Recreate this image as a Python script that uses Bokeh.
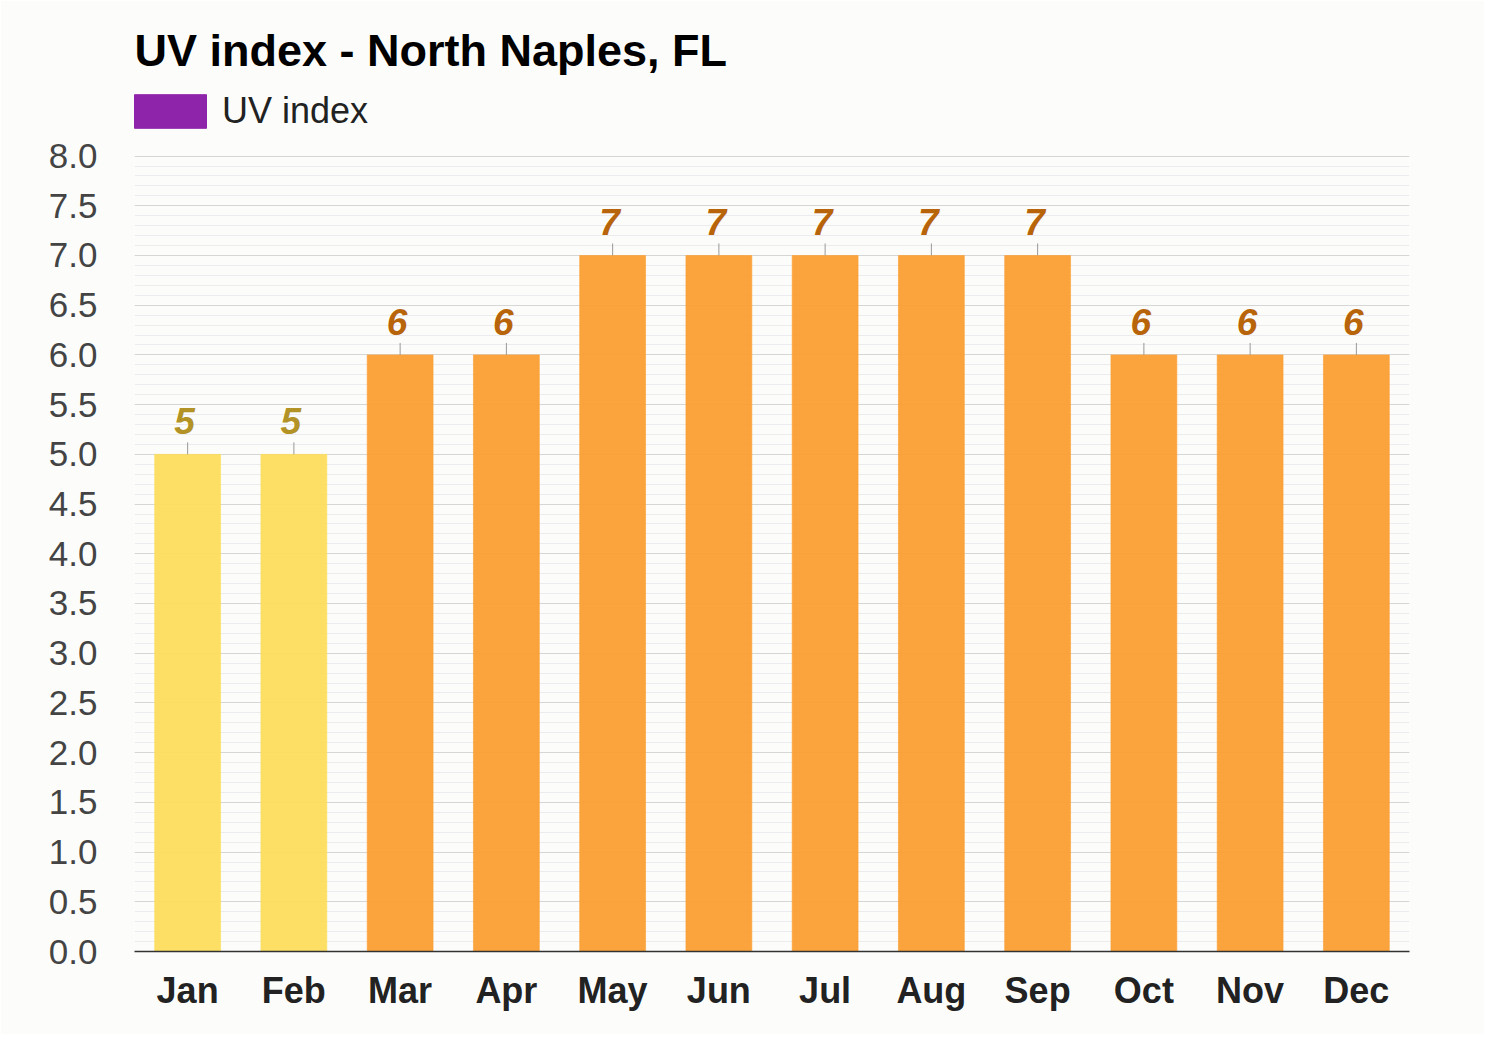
import math
from bokeh.plotting import figure
from bokeh.models import (ColumnDataSource, FactorRange, Range1d, FixedTicker,
                          NumeralTickFormatter, Legend, LegendItem)
from bokeh.embed import file_html
from bokeh.resources import INLINE
from bokeh.core.properties import value

months = ["Jan", "Feb", "Mar", "Apr", "May", "Jun", "Jul", "Aug", "Sep", "Oct", "Nov", "Dec"]
uv_index = [5, 5, 6, 6, 7, 7, 7, 7, 7, 6, 6, 6]
y_major_ticks = [0.0, 0.5, 1.0, 1.5, 2.0, 2.5, 3.0, 3.5, 4.0, 4.5, 5.0, 5.5, 6.0, 6.5, 7.0, 7.5, 8.0]
title_text = "UV index - North Naples, FL"
series_name = "UV index"

FONT = "Liberation Sans"
BG = "#fcfdfb"
Y_MAX = 8.0
Y_TOP = 8.76          # room above the axis for the legend row
minor_ticks = [round(i * 0.1, 1) for i in range(0, int(Y_MAX * 10) + 1)]

def bar_color(v):
    return "#fcdd5c" if v <= 5 else "#fb9f33"

def label_color(v):
    return "#b39226" if v <= 5 else "#b8640a"

src = ColumnDataSource(dict(
    month=months,
    uv=uv_index,
    label=[str(v) for v in uv_index],
    fill=[bar_color(v) for v in uv_index],
    tcol=[label_color(v) for v in uv_index],
))

p = figure(width=1484, height=1034, x_range=FactorRange(*months, range_padding=0),
           y_range=Range1d(0, Y_TOP), output_backend="svg", toolbar_location=None,
           min_border_left=134, min_border_right=75, min_border_top=80, min_border_bottom=83)
p.background_fill_color = BG
p.border_fill_color = BG
p.outline_line_color = None

p.title.text = title_text
p.title.text_font = FONT
p.title.text_font_size = "45px"
p.title.text_font_style = "bold"
p.title.text_color = "#000000"
p.title.align = "left"

ticker = FixedTicker(ticks=y_major_ticks, minor_ticks=minor_ticks)

# grid
p.xgrid.grid_line_color = None
p.ygrid.ticker = ticker
p.ygrid.grid_line_color = "#d6d6d6"
p.ygrid.minor_grid_line_color = "#ececef"

bars = p.vbar(x="month", top="uv", width=0.62, source=src, fill_color="fill",
              line_color="fill", line_alpha=0.6, fill_alpha=0.95)

p.ray(x="month", y="uv", length=12, length_units="screen", angle=math.pi / 2,
      source=src, line_color="#999999", line_width=1)

p.text(x="month", y="uv", text="label", source=src, y_offset=-33, x_offset=-3,
       text_align="center", text_baseline="alphabetic", text_color="tcol",
       text_font=value(FONT), text_font_style="bold italic", text_font_size="37px")

# y axis
yax = p.yaxis[0]
yax.ticker = ticker
yax.formatter = NumeralTickFormatter(format="0.0")
yax.axis_line_color = None
yax.major_tick_line_color = None
yax.minor_tick_line_color = None
yax.major_label_text_font = FONT
yax.major_label_text_font_size = "35px"
yax.major_label_text_color = "#444444"
yax.major_label_standoff = 31

# x axis
xax = p.xaxis[0]
xax.axis_line_color = "#333333"
xax.axis_line_width = 1.5
xax.major_tick_line_color = None
xax.minor_tick_line_color = None
xax.major_label_text_font = FONT
xax.major_label_text_font_size = "36px"
xax.major_label_text_font_style = "bold"
xax.major_label_text_color = "#222222"
xax.major_label_standoff = 12

# legend (swatch proxy: one undrawn point so the legend has a glyph to show)
nan = float("nan")
swatch = p.quad(left=[nan], right=[nan], top=[nan], bottom=[nan],
                fill_color="#8e24aa", line_color="#8e24aa")
legend = Legend(items=[LegendItem(label=series_name, renderers=[swatch])],
                location=(-9, 819), orientation="horizontal",
                glyph_width=90, glyph_height=42, label_height=42, label_standoff=7,
                label_text_font=FONT, label_text_font_size="36px", label_text_color="#222222",
                border_line_color=None, background_fill_alpha=0, padding=0, margin=0, spacing=0)
p.add_layout(legend)

open("out.html", "w").write(file_html(p, INLINE))
